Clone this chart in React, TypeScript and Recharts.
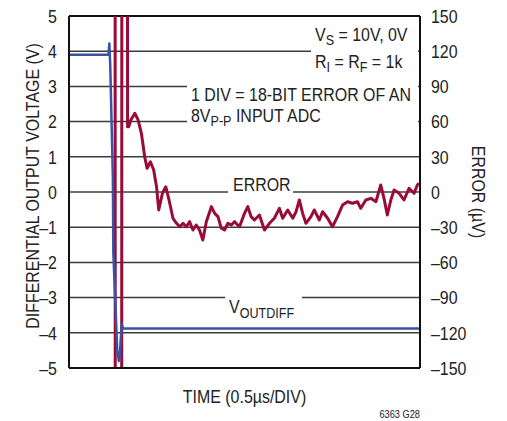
import React from 'react';
import { LineChart, Line, XAxis, YAxis, CartesianGrid, ReferenceLine } from 'recharts';

// ---- data ----
const timeTicks = [0, 1, 2, 3, 4, 5, 6, 7, 8, 9, 10, 11, 12, 13, 14, 15, 16];
const voltTicks = [-5, -4, -3, -2, -1, 0, 1, 2, 3, 4, 5];
const errorTicks = [-150, -120, -90, -60, -30, 0, 30, 60, 90, 120, 150];

// V_OUTDIFF (V) vs time (divisions)
const voutTime = [0, 1.8, 1.84, 1.88, 2.0, 2.02, 2.2, 2.27, 2.32, 2.4, 2.47, 16];
const voutValue = [3.9, 3.9, 4.22, 3.6, 0.4, -1.7, -4.5, -4.8, -4.6, -3.75, -3.88, -3.88];

// ERROR (µV) vs time (divisions) — off-scale excursions drawn past the frame
const errTime = [
  2.1, 2.11, 2.4, 2.41, 2.66, 2.67, 2.72, 2.82, 3.0, 3.15, 3.3, 3.45, 3.56, 3.71, 3.86, 3.99,
  4.09, 4.26, 4.41, 4.56, 4.74, 4.9, 5.05, 5.2, 5.35, 5.5, 5.65, 5.8, 5.95, 6.1, 6.26, 6.49,
  6.64, 6.79, 6.94, 7.09, 7.24, 7.4, 7.55, 7.77, 8.0, 8.15, 8.3, 8.45, 8.68, 8.91, 9.14, 9.36,
  9.59, 9.74, 9.97, 10.2, 10.35, 10.5, 10.65, 10.8, 11.03, 11.18, 11.41, 11.56, 11.79, 12.01,
  12.24, 12.47, 12.7, 12.92, 13.15, 13.3, 13.53, 13.76, 13.99, 14.21, 14.36, 14.51, 14.67,
  14.82, 15.05, 15.27, 15.5, 15.73, 15.88, 15.95,
];
const errValue = [
  400, -400, -400, 400, 400, 55.6, 55.6, 61.4, 67.1, 61.4, 50, 30.1, 20.2, 25.8, 18.8, 4.5,
  -15.3, -1.1, 4.5, -6.8, -22.4, -26.7, -29.6, -26.7, -29.6, -25.3, -32.4, -28.1, -32.4, -40.9, -25.3, -12.5,
  -18.2, -21, -30.9, -32.4, -26.7, -28.1, -25.3, -29.6, -18.2, -12.5, -21, -23.9, -19.6, -32.4, -26.7, -22.4,
  -13.9, -22.4, -15.3, -22.4, -16.8, -6.8, -18.2, -26.7, -21, -15.3, -23.9, -16.8, -22.4, -29.6,
  -21, -11.1, -8.3, -9.6, -8.3, -13.9, -6.8, -5.4, -8.3, 6, -5.4, -19.6, -6.8,
  1.7, -1.1, -6.8, 3.2, -1.1, 6, 7.4,
];

const voutData = voutTime.map((t, i) => ({ t, v: voutValue[i] }));
const errData = errTime.map((t, i) => ({ t, e: errValue[i] }));

const FONT = '"Liberation Sans", Arial, sans-serif';
const NARROW = 0.84;
const TXT = '#222';
const RED = '#990c38';
const BLUE = '#3a52a3';

const fmt = (v: number) => (v < 0 ? `\u2013${Math.abs(v)}` : `${v}`);

type NProps = {
  x: number;
  y: number;
  size?: number;
  anchor?: 'start' | 'middle' | 'end';
  rotate?: number;
  dy?: string;
  children?: React.ReactNode;
};

const N = ({ x, y, size = 19, anchor = 'start', rotate = 0, dy, children }: NProps) => (
  <text
    x={0}
    y={0}
    dy={dy}
    transform={`translate(${x},${y}) rotate(${rotate}) scale(${NARROW},1)`}
    fontSize={size}
    fontFamily={FONT}
    fill={TXT}
    textAnchor={anchor}
  >
    {children}
  </text>
);

const LeftTick = (props: any) => (
  <N x={props.x} y={props.y} anchor="end" dy="0.36em">
    {fmt(props.payload.value)}
  </N>
);
const RightTick = (props: any) => (
  <N x={props.x} y={props.y} anchor="start" dy="0.36em">
    {fmt(props.payload.value)}
  </N>
);

export default function App() {
  return (
    <div style={{ position: 'absolute', left: 0, top: 0, width: 507, height: 421, background: '#fff' }}>
      <LineChart width={507} height={421} margin={{ top: 16, right: 0, bottom: 0, left: 0 }}>
        <CartesianGrid yAxisId="v" horizontal={false} stroke="#9a9a9a" strokeWidth={2} />
        <CartesianGrid yAxisId="v" vertical={false} stroke="#3c3c3c" strokeWidth={1.5} />
        <XAxis
          type="number"
          dataKey="t"
          domain={[0, 16]}
          ticks={timeTicks}
          interval={0}
          tick={false}
          tickLine={false}
          height={53}
          axisLine={{ stroke: '#111', strokeWidth: 2 }}
          allowDataOverflow
        />
        <YAxis
          yAxisId="v"
          orientation="left"
          type="number"
          domain={[-5, 5]}
          ticks={voltTicks}
          interval={0}
          width={69}
          tickLine={false}
          tickMargin={6}
          tick={LeftTick}
          axisLine={{ stroke: '#111', strokeWidth: 2 }}
          allowDataOverflow
        />
        <YAxis
          yAxisId="e"
          orientation="right"
          type="number"
          domain={[-150, 150]}
          ticks={errorTicks}
          interval={0}
          width={87}
          tickLine={false}
          tickMargin={5}
          tick={RightTick}
          axisLine={{ stroke: '#111', strokeWidth: 2 }}
          allowDataOverflow
        />
        <ReferenceLine yAxisId="v" y={5} stroke="#111" strokeWidth={2} />
        <Line
          yAxisId="e"
          data={errData}
          dataKey="e"
          stroke={RED}
          strokeWidth={3}
          dot={false}
          isAnimationActive={false}
          strokeLinejoin="round"
        />
        <Line
          yAxisId="v"
          data={voutData}
          dataKey="v"
          stroke={BLUE}
          strokeWidth={2.5}
          dot={false}
          isAnimationActive={false}
          strokeLinejoin="round"
        />
      </LineChart>
      <svg
        width={507}
        height={421}
        style={{ position: 'absolute', left: 0, top: 0, pointerEvents: 'none' }}
      >
        <rect x={311} y={21} width={107} height={56} fill="#fff" />
        <rect x={187} y={81} width={231} height={45} fill="#fff" />
        <rect x={228} y={172} width={65} height={26} fill="#fff" />
        <rect x={225} y={287} width={77} height={36} fill="#fff" />

        <N x={315} y={41}>
          V<tspan fontSize={15} dy={4}>S</tspan>
          <tspan dy={-4}> = 10V, 0V</tspan>
        </N>
        <N x={315} y={68}>
          R<tspan fontSize={15} dy={4}>I</tspan>
          <tspan dy={-4}> = R</tspan>
          <tspan fontSize={15} dy={4}>F</tspan>
          <tspan dy={-4}> = 1k</tspan>
        </N>
        <N x={191} y={101}>1 DIV = 18-BIT ERROR OF AN</N>
        <N x={191} y={122}>
          8V<tspan fontSize={15} dy={4}>P-P</tspan>
          <tspan dy={-4}> INPUT ADC</tspan>
        </N>
        <N x={233} y={191}>ERROR</N>
        <N x={229} y={313}>
          V<tspan fontSize={15} dy={5}>OUTDIFF</tspan>
        </N>

        <N x={244.5} y={403} anchor="middle">TIME (0.5µs/DIV)</N>
        <N x={420} y={418} size={11} anchor="end">6363 G28</N>
        <N x={39} y={186} anchor="middle" rotate={-90}>DIFFERENTIAL OUTPUT VOLTAGE (V)</N>
        <N x={472} y={192} anchor="middle" rotate={90}>ERROR (µV)</N>
      </svg>
    </div>
  );
}
